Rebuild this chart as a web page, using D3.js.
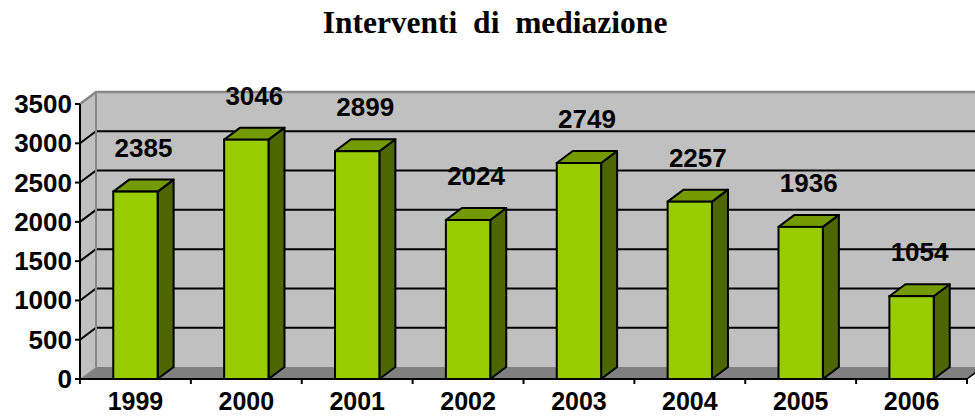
<!DOCTYPE html>
<html>
<head>
<meta charset="utf-8">
<script src="https://cdn.jsdelivr.net/npm/d3@7"></script>
<style>
  html, body { margin: 0; padding: 0; background: #fff; }
  svg { display: block; }
</style>
</head>
<body>
<svg id="chart" width="975" height="416"></svg>
<script>
// ---- data ----
const years = ["1999", "2000", "2001", "2002", "2003", "2004", "2005", "2006"];
const interventi = [2385, 3046, 2899, 2024, 2749, 2257, 1936, 1054];
const yTicks = [0, 500, 1000, 1500, 2000, 2500, 3000, 3500];
const titleText = "Interventi  di  mediazione";

(function () {
// ---- layout ----
const W = 975;
const pLeft = 80, pRight = 967, pBottom = 379, pTop = 104;
const DX = 16, DY = -12; // depth offset
const svg = d3.select("#chart");

const x = d3.scaleBand().domain(years).range([pLeft, pRight]).paddingInner(0.6).paddingOuter(0.3);
const step = x.step();
const y = d3.scaleLinear().domain([0, 3500]).range([pBottom, pTop]);

const colFront = "#99cc00", colTop = "#739a00", colSide = "#4d6600";
const wallCol = "#c0c0c0", floorCol = "#808080", edgeCol = "#888888";

const poly = pts => pts.map(p => p.join(",")).join(" ");

// side wall
svg.append("polygon")
  .attr("points", poly([[pLeft, pBottom], [pLeft, pTop], [pLeft + DX, pTop + DY], [pLeft + DX, pBottom + DY]]))
  .attr("fill", wallCol);
// back wall
svg.append("polygon")
  .attr("points", poly([[pLeft + DX, pBottom + DY], [pLeft + DX, pTop + DY], [W + 20, pTop + DY], [W + 20, pBottom + DY]]))
  .attr("fill", wallCol);
// floor
svg.append("polygon")
  .attr("points", poly([[pLeft, pBottom], [pLeft + DX, pBottom + DY], [pRight + DX, pBottom + DY], [pRight, pBottom]]))
  .attr("fill", floorCol);
svg.append("line")
  .attr("x1", pLeft).attr("y1", pBottom).attr("x2", pLeft + DX).attr("y2", pBottom + DY)
  .attr("stroke", "#a0a0a0").attr("stroke-width", 1);

// gridlines (back wall + side wall diagonals)
const grid = svg.append("g");
yTicks.filter(t => t > 0 && t < 3500).forEach(t => {
  grid.append("line")
    .attr("x1", pLeft + DX).attr("x2", W + 20)
    .attr("y1", y(t) + DY).attr("y2", y(t) + DY)
    .attr("stroke", "#000").attr("stroke-width", 2);
  grid.append("line")
    .attr("x1", pLeft).attr("x2", pLeft + DX)
    .attr("y1", y(t)).attr("y2", y(t) + DY)
    .attr("stroke", "#000").attr("stroke-width", 2);
});

// wall edges
svg.append("path")
  .attr("d", `M${pLeft},${pTop}L${pLeft + DX},${pTop + DY}L${W + 20},${pTop + DY}`)
  .attr("fill", "none").attr("stroke", edgeCol).attr("stroke-width", 2.5);
svg.append("line")
  .attr("x1", pLeft + DX).attr("x2", pLeft + DX)
  .attr("y1", pTop + DY).attr("y2", pBottom + DY)
  .attr("stroke", edgeCol).attr("stroke-width", 2);

// bars
const data = years.map((yr, i) => ({ year: yr, value: interventi[i] }));
const bars = svg.append("g").selectAll("g").data(data).join("g");
bars.each(function (d) {
  const g = d3.select(this);
  const x0 = x(d.year), x1 = x0 + x.bandwidth();
  const y0 = y(d.value), yb = y(0);
  g.append("polygon")
    .attr("points", poly([[x1, yb], [x1, y0], [x1 + DX, y0 + DY], [x1 + DX, yb + DY]]))
    .attr("fill", colSide).attr("stroke", "#000").attr("stroke-width", 2).attr("stroke-linejoin", "round");
  g.append("polygon")
    .attr("points", poly([[x0, y0], [x0 + DX, y0 + DY], [x1 + DX, y0 + DY], [x1, y0]]))
    .attr("fill", colTop).attr("stroke", "#000").attr("stroke-width", 2).attr("stroke-linejoin", "round");
  g.append("rect")
    .attr("x", x0).attr("y", y0).attr("width", x1 - x0).attr("height", yb - y0)
    .attr("fill", colFront).attr("stroke", "#000").attr("stroke-width", 2);
});

// y axis
const yAxis = svg.append("g");
yAxis.append("line")
  .attr("x1", pLeft).attr("x2", pLeft).attr("y1", pTop).attr("y2", pBottom + 1)
  .attr("stroke", "#000").attr("stroke-width", 2);
yTicks.forEach(t => {
  yAxis.append("line")
    .attr("x1", pLeft - 5).attr("x2", pLeft).attr("y1", y(t)).attr("y2", y(t))
    .attr("stroke", "#000").attr("stroke-width", 2);
  yAxis.append("text")
    .attr("x", 72).attr("y", y(t) + 9)
    .attr("text-anchor", "end")
    .attr("font-family", "'Liberation Sans', Arial, sans-serif")
    .attr("font-weight", "bold").attr("font-size", 26)
    .text(t);
});

// x axis
const xAxis = svg.append("g");
xAxis.append("line")
  .attr("x1", pLeft - 1).attr("x2", pRight).attr("y1", pBottom).attr("y2", pBottom)
  .attr("stroke", "#000").attr("stroke-width", 2);
d3.range(years.length + 1).forEach(i => {
  const xt = pLeft + i * step;
  xAxis.append("line")
    .attr("x1", xt).attr("x2", xt).attr("y1", pBottom).attr("y2", pBottom + 5)
    .attr("stroke", "#000").attr("stroke-width", 2);
});
xAxis.append("line")
  .attr("x1", pRight).attr("y1", pBottom).attr("x2", pRight + DX).attr("y2", pBottom + DY)
  .attr("stroke", "#000").attr("stroke-width", 1.5);
years.forEach(yr => {
  xAxis.append("text")
    .attr("x", x(yr) + x.bandwidth() / 2).attr("y", 410)
    .attr("text-anchor", "middle")
    .attr("font-family", "'Liberation Sans', Arial, sans-serif")
    .attr("font-weight", "bold").attr("font-size", 25)
    .text(yr);
});

// value labels
svg.append("g").selectAll("text").data(data).join("text")
  .attr("x", d => x(d.year) + x.bandwidth() / 2 + DX / 2)
  .attr("y", d => y(d.value) + DY / 2 - 38 + 9)
  .attr("text-anchor", "middle")
  .attr("font-family", "'Liberation Sans', Arial, sans-serif")
  .attr("font-weight", "bold").attr("font-size", 26)
  .text(d => d.value);

// title
svg.append("text")
  .attr("x", 495).attr("y", 33)
  .attr("text-anchor", "middle")
  .attr("font-family", "'Liberation Serif', 'Times New Roman', serif")
  .attr("font-weight", "bold").attr("font-size", 31.5)
  .style("white-space", "pre")
  .text(titleText);
})();
</script>
</body>
</html>
